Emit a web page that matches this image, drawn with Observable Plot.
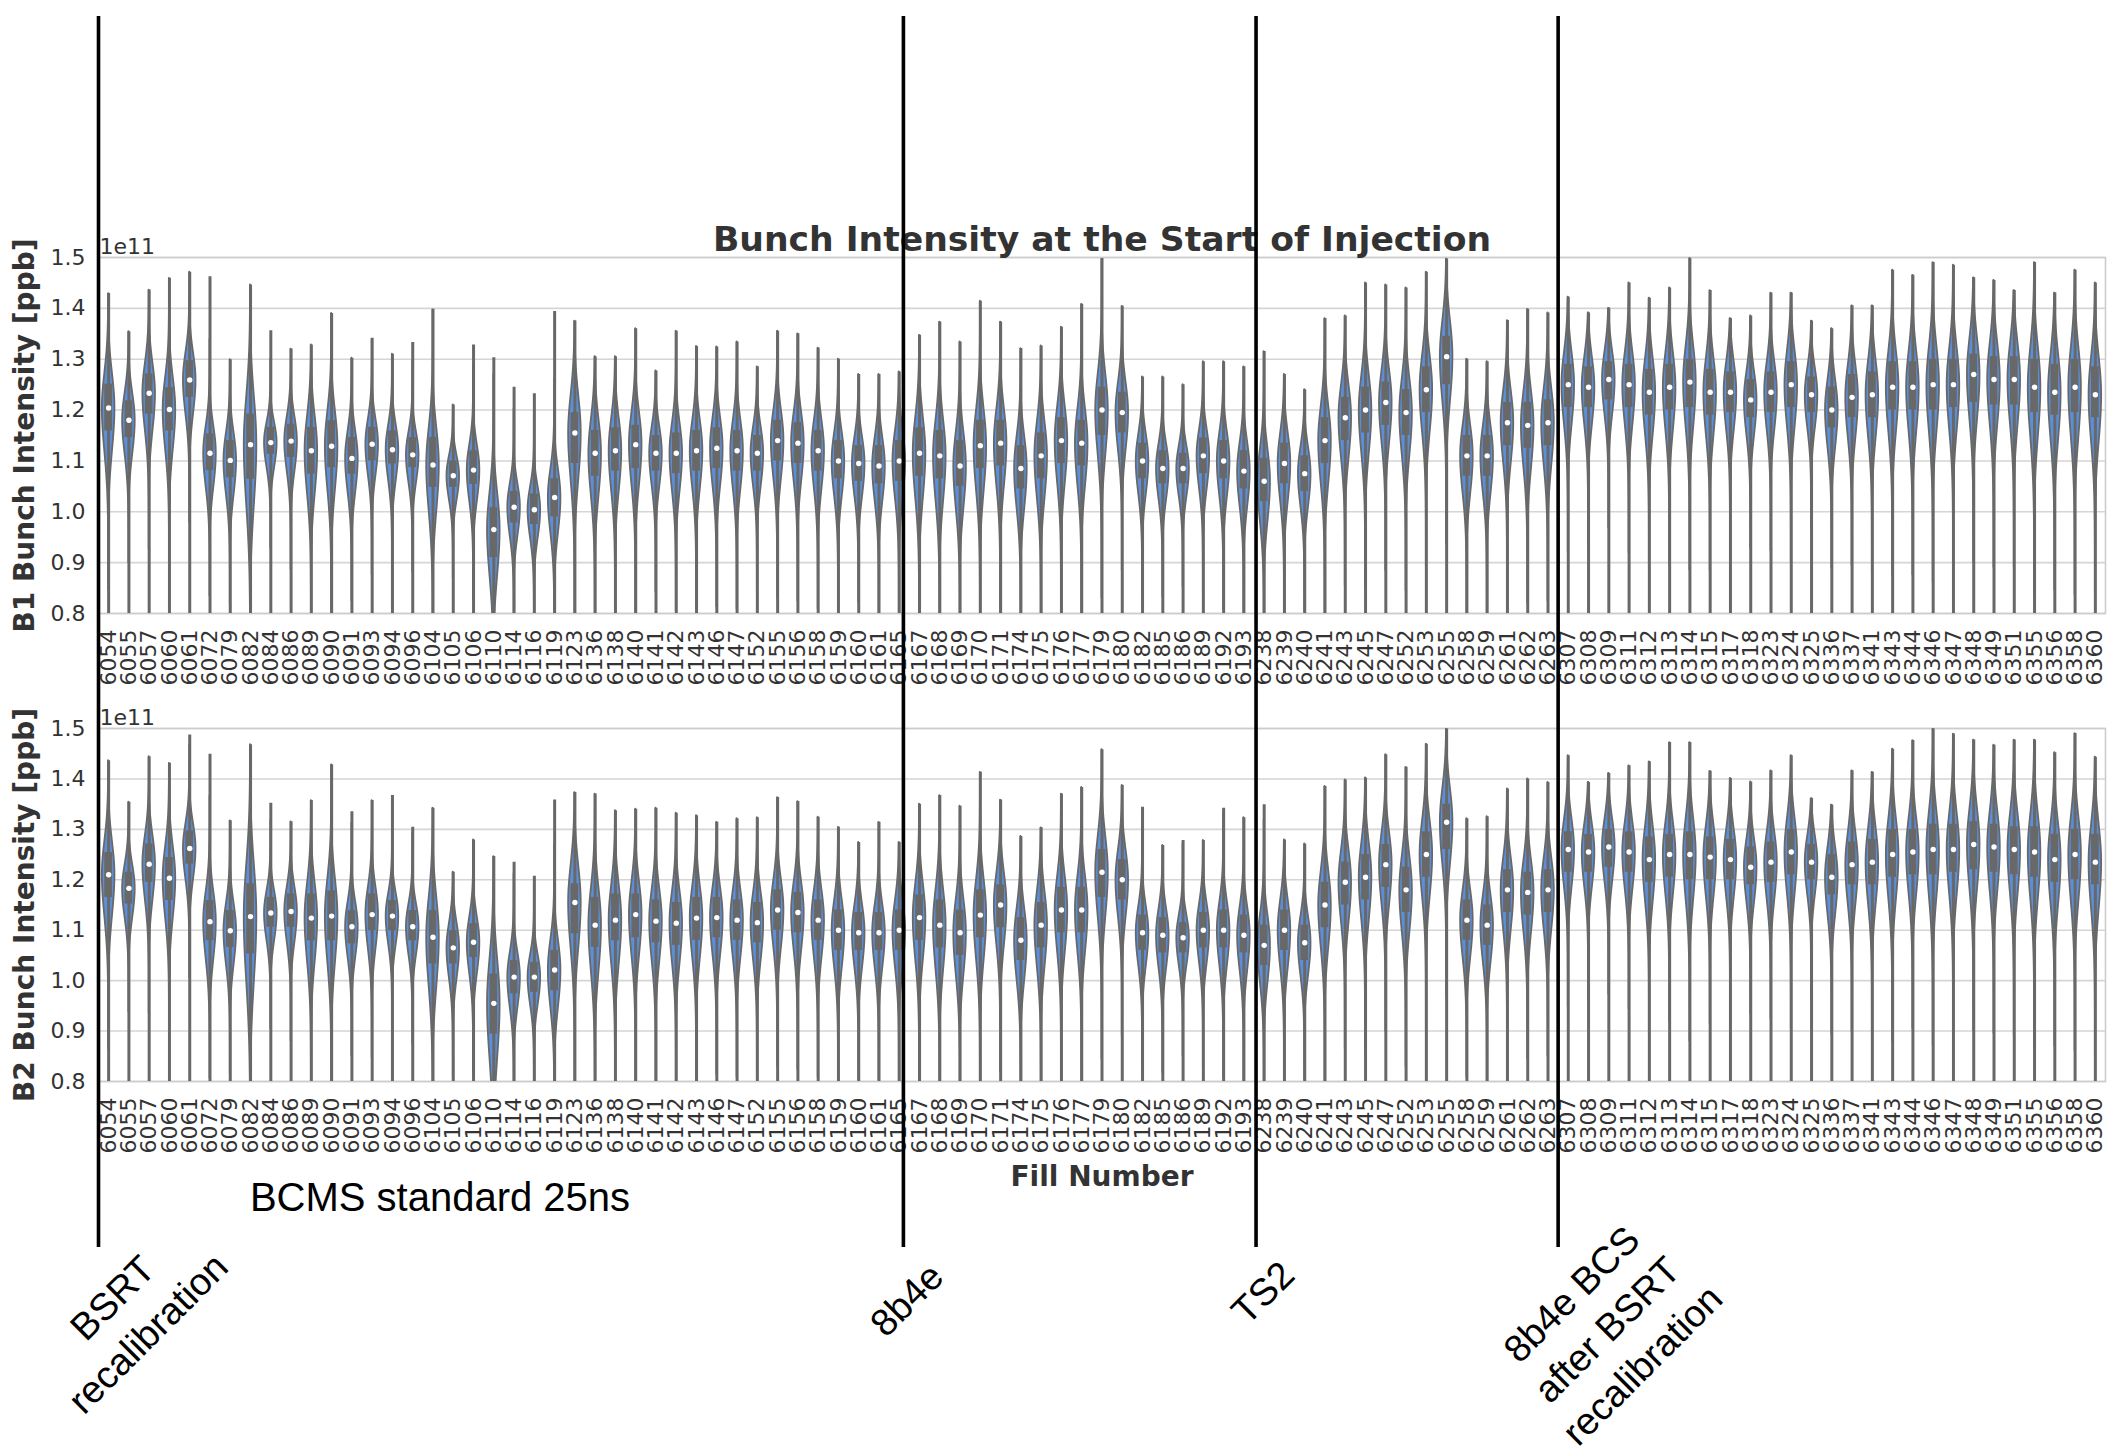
<!DOCTYPE html>
<html>
<head>
<meta charset="utf-8">
<script src="https://cdn.jsdelivr.net/npm/d3@7"></script>
<script src="https://cdn.jsdelivr.net/npm/@observablehq/plot@0.6"></script>
<style>
html, body { margin: 0; padding: 0; background: #fff; overflow: hidden; }
#chart { position: relative; width: 2114px; height: 1454px; background: #fff; }
#chart svg { position: absolute; left: 0; max-width: none !important; }
</style>
</head>
<body>
<div id="chart"></div>
<script>
// ---------------- DATA ----------------
const fills = ["6054","6055","6057","6060","6061","6072","6079","6082","6084","6086","6089","6090","6091","6093","6094","6096","6104","6105","6106","6110","6114","6116","6119","6123","6136","6138","6140","6141","6142","6143","6146","6147","6152","6155","6156","6158","6159","6160","6161","6165","6167","6168","6169","6170","6171","6174","6175","6176","6177","6179","6180","6182","6185","6186","6189","6192","6193","6238","6239","6240","6241","6243","6245","6247","6252","6253","6255","6258","6259","6261","6262","6263","6307","6308","6309","6311","6312","6313","6314","6315","6317","6318","6323","6324","6325","6336","6337","6341","6343","6344","6346","6347","6348","6349","6351","6355","6356","6358","6360"];

// B1 (units of 1e11 ppb)
const b1Median = [1.204,1.180,1.233,1.201,1.259,1.115,1.101,1.132,1.136,1.139,1.120,1.129,1.105,1.133,1.122,1.112,1.092,1.071,1.082,0.965,1.009,1.004,1.028,1.155,1.115,1.120,1.132,1.115,1.115,1.120,1.125,1.120,1.115,1.140,1.135,1.120,1.100,1.095,1.090,1.100,1.115,1.110,1.090,1.130,1.135,1.085,1.110,1.140,1.135,1.200,1.195,1.100,1.085,1.085,1.110,1.100,1.080,1.060,1.095,1.075,1.140,1.185,1.200,1.215,1.195,1.240,1.305,1.110,1.110,1.175,1.170,1.175,1.250,1.245,1.260,1.250,1.235,1.245,1.255,1.235,1.235,1.220,1.235,1.250,1.230,1.200,1.225,1.230,1.245,1.245,1.250,1.250,1.270,1.260,1.260,1.245,1.235,1.245,1.230];
const b1Q1 = [1.159,1.146,1.192,1.159,1.225,1.081,1.067,1.064,1.113,1.107,1.074,1.087,1.074,1.100,1.094,1.087,1.048,1.048,1.054,0.910,0.978,0.975,0.990,1.095,1.070,1.080,1.085,1.080,1.075,1.080,1.085,1.080,1.080,1.100,1.095,1.080,1.065,1.060,1.055,1.060,1.070,1.065,1.050,1.085,1.090,1.045,1.065,1.095,1.090,1.150,1.155,1.065,1.055,1.055,1.075,1.065,1.045,1.020,1.055,1.040,1.095,1.140,1.155,1.170,1.150,1.195,1.250,1.070,1.070,1.130,1.125,1.130,1.205,1.205,1.220,1.205,1.190,1.200,1.205,1.190,1.195,1.185,1.195,1.205,1.195,1.165,1.185,1.185,1.200,1.200,1.200,1.205,1.215,1.210,1.210,1.195,1.190,1.195,1.185];
const b1Q3 = [1.251,1.218,1.271,1.244,1.297,1.153,1.140,1.192,1.166,1.172,1.166,1.179,1.146,1.166,1.159,1.146,1.146,1.100,1.120,1.008,1.040,1.035,1.065,1.195,1.160,1.165,1.170,1.150,1.155,1.160,1.165,1.160,1.150,1.180,1.175,1.160,1.140,1.130,1.130,1.140,1.165,1.160,1.140,1.180,1.180,1.130,1.155,1.185,1.180,1.245,1.235,1.135,1.120,1.115,1.145,1.140,1.120,1.105,1.135,1.110,1.185,1.225,1.245,1.255,1.240,1.285,1.345,1.150,1.150,1.215,1.215,1.220,1.290,1.285,1.295,1.290,1.280,1.290,1.300,1.280,1.275,1.260,1.275,1.295,1.265,1.245,1.270,1.275,1.295,1.295,1.300,1.300,1.310,1.305,1.305,1.300,1.290,1.300,1.285];
const b1Max = [1.429,1.354,1.436,1.459,1.471,1.462,1.299,1.446,1.356,1.320,1.328,1.390,1.302,1.341,1.310,1.333,1.398,1.210,1.328,1.303,1.245,1.232,1.394,1.375,1.305,1.305,1.360,1.277,1.355,1.325,1.324,1.334,1.285,1.355,1.350,1.322,1.300,1.270,1.270,1.275,1.347,1.373,1.334,1.414,1.373,1.321,1.326,1.363,1.408,1.498,1.404,1.265,1.265,1.250,1.295,1.295,1.285,1.315,1.270,1.240,1.380,1.385,1.450,1.446,1.440,1.471,1.497,1.300,1.295,1.376,1.398,1.391,1.422,1.391,1.400,1.450,1.420,1.440,1.498,1.435,1.380,1.385,1.430,1.430,1.375,1.360,1.405,1.405,1.475,1.465,1.490,1.485,1.460,1.455,1.435,1.490,1.430,1.475,1.450];

// B2 (units of 1e11 ppb)
const b2Median = [1.210,1.183,1.231,1.203,1.262,1.117,1.099,1.127,1.134,1.137,1.124,1.128,1.107,1.131,1.128,1.107,1.086,1.065,1.076,0.955,1.007,1.007,1.021,1.155,1.110,1.120,1.131,1.118,1.114,1.124,1.125,1.120,1.115,1.140,1.135,1.120,1.100,1.095,1.095,1.100,1.125,1.110,1.095,1.130,1.150,1.080,1.110,1.140,1.140,1.215,1.200,1.095,1.090,1.085,1.100,1.100,1.090,1.070,1.100,1.075,1.150,1.195,1.205,1.230,1.180,1.250,1.314,1.120,1.110,1.180,1.175,1.180,1.260,1.255,1.265,1.255,1.240,1.250,1.250,1.245,1.240,1.225,1.235,1.255,1.235,1.205,1.230,1.235,1.250,1.255,1.260,1.260,1.270,1.265,1.260,1.255,1.240,1.250,1.235];
const b2Q1 = [1.165,1.152,1.195,1.159,1.231,1.079,1.066,1.053,1.106,1.106,1.079,1.079,1.073,1.099,1.099,1.079,1.033,1.033,1.046,0.894,0.974,0.977,0.980,1.093,1.066,1.079,1.085,1.075,1.070,1.080,1.085,1.080,1.075,1.100,1.095,1.080,1.060,1.060,1.060,1.060,1.080,1.065,1.050,1.085,1.105,1.040,1.065,1.095,1.095,1.165,1.160,1.060,1.055,1.055,1.065,1.065,1.055,1.030,1.060,1.040,1.105,1.150,1.160,1.185,1.135,1.205,1.260,1.080,1.070,1.135,1.130,1.135,1.215,1.215,1.225,1.215,1.195,1.205,1.200,1.200,1.200,1.190,1.195,1.210,1.200,1.170,1.190,1.190,1.205,1.210,1.210,1.215,1.220,1.215,1.210,1.205,1.195,1.200,1.190];
const b2Q3 = [1.254,1.215,1.271,1.244,1.297,1.159,1.139,1.192,1.165,1.172,1.172,1.178,1.139,1.172,1.159,1.139,1.139,1.099,1.113,1.013,1.040,1.036,1.060,1.192,1.165,1.172,1.172,1.160,1.155,1.165,1.165,1.160,1.155,1.180,1.175,1.160,1.140,1.135,1.135,1.140,1.170,1.160,1.140,1.180,1.190,1.125,1.155,1.185,1.185,1.260,1.240,1.130,1.125,1.115,1.135,1.140,1.130,1.110,1.140,1.110,1.195,1.235,1.250,1.270,1.225,1.295,1.350,1.160,1.150,1.220,1.215,1.220,1.295,1.290,1.300,1.295,1.285,1.290,1.295,1.285,1.280,1.265,1.275,1.300,1.270,1.250,1.275,1.280,1.300,1.300,1.310,1.310,1.315,1.310,1.305,1.305,1.290,1.300,1.290];
const b2Max = [1.436,1.354,1.444,1.431,1.487,1.449,1.317,1.468,1.352,1.315,1.357,1.428,1.335,1.357,1.367,1.304,1.342,1.215,1.279,1.246,1.235,1.207,1.358,1.373,1.370,1.337,1.340,1.342,1.332,1.327,1.314,1.321,1.323,1.363,1.355,1.324,1.304,1.274,1.314,1.274,1.350,1.367,1.346,1.413,1.358,1.286,1.303,1.370,1.383,1.458,1.387,1.344,1.268,1.278,1.278,1.342,1.323,1.349,1.279,1.271,1.385,1.398,1.402,1.448,1.423,1.469,1.499,1.321,1.325,1.380,1.400,1.393,1.446,1.393,1.411,1.426,1.434,1.472,1.472,1.415,1.401,1.394,1.416,1.446,1.361,1.348,1.416,1.413,1.459,1.476,1.499,1.489,1.477,1.467,1.477,1.477,1.452,1.490,1.443];

// every distribution has a low tail running off the bottom of the axis
const lowTail = 0.70;

const yTicks = [0.8, 0.9, 1.0, 1.1, 1.2, 1.3, 1.4, 1.5];

// period annotations: boundary sits just before the named fill
const periodStarts = ["6054", "6167", "6238", "6307"];
const periodLabels = ["BSRT\nrecalibration", "8b4e", "TS2", "8b4e BCS\nafter BSRT\nrecalibration"];
const bandLabel = "BCMS standard 25ns";

// ---------------- STYLE / LAYOUT ----------------
const W = 2114, H = 1454;
const ML = 98, MR = 9;
const GRAY = "#686868";
const BLUE = "#5b8fd9";
const TEXT = "#333333";
const HALF_W = 0.31;   // max violin half-width (band units)
const BOX_HW = 0.19;   // inner box half-width
const N = fills.length;
const idx = d3.range(N);
const xDomain = [-0.5, N - 0.5];

function violinRows(med, q1, q3, mx) {
  const rows = [];
  for (const i of idx) {
    const s = Math.max(0.012, (q3[i] - q1[i]) / 1.35);
    const sLo = s * 1.25;
    const lo = Math.max(lowTail, med[i] - 4.2 * sLo);
    const hi = Math.min(mx[i], med[i] + 4.2 * s);
    const K = 60;
    for (let k = 0; k <= K; k++) {
      const y = lo + (hi - lo) * k / K;
      const sd = y < med[i] ? sLo : s;
      const w = HALF_W * Math.exp(-0.5 * ((y - med[i]) / sd) ** 2);
      rows.push({i, y, x1: i - w, x2: i + w});
    }
  }
  return rows;
}

function panel({med, q1, q3, mx, ylabel, height, marginTop, marginBottom, extra}) {
  const rows = violinRows(med, q1, q3, mx);
  return Plot.plot({
    width: W, height,
    marginLeft: ML, marginRight: MR, marginTop, marginBottom,
    style: {background: "transparent", fontFamily: "DejaVu Sans", fontSize: "22px", color: TEXT, overflow: "visible"},
    x: {domain: xDomain, axis: null},
    y: {domain: [0.8, 1.5], axis: null},
    marks: [
      Plot.gridY(yTicks, {stroke: "#d5d5d5", strokeOpacity: 1, strokeWidth: 1.6}),
      Plot.frame({stroke: "#cccccc", strokeWidth: 1.6}),
      Plot.areaX(rows, {x1: "x1", x2: "x2", y: "y", z: "i", fill: BLUE, fillOpacity: 1, stroke: GRAY, strokeWidth: 1.8, clip: true}),
      Plot.ruleX(idx, {x: i => i, y1: () => lowTail, y2: i => mx[i], stroke: GRAY, strokeWidth: 3, clip: true}),
      Plot.rect(idx, {x1: i => i - BOX_HW, x2: i => i + BOX_HW, y1: i => q1[i], y2: i => q3[i], fill: GRAY, clip: true}),
      Plot.dot(idx, {x: i => i, y: i => med[i], r: 2.7, fill: "white", stroke: null}),
      Plot.axisY(yTicks, {tickSize: 0, tickPadding: 13, tickFormat: d => d.toFixed(1), fontSize: 22, fill: TEXT, label: null}),
      Plot.axisX(idx, {tickSize: 0, tickPadding: 16, tickRotate: -90, tickFormat: i => fills[i], fontSize: 22, fill: TEXT, label: null}),
      Plot.text(["1e11"], {frameAnchor: "top-left", textAnchor: "start", lineAnchor: "bottom", dx: 1, dy: -4, fontSize: 22, fill: TEXT}),
      Plot.text([ylabel], {frameAnchor: "left", rotate: -90, dx: -73.5, textAnchor: "middle", lineAnchor: "middle", fontSize: 28, fontWeight: "bold", fill: TEXT}),
      ...(extra || [])
    ]
  });
}

const chartEl = document.getElementById("chart");

const panelB1 = panel({
  med: b1Median, q1: b1Q1, q3: b1Q3, mx: b1Max,
  ylabel: "B1 Bunch Intensity [ppb]",
  height: 520, marginTop: 57, marginBottom: 107,
  extra: [Plot.text(["Bunch Intensity at the Start of Injection"], {frameAnchor: "top", lineAnchor: "bottom", dy: -7, fontSize: 34.6, fontWeight: "bold", fill: TEXT})]
});
panelB1.style.top = "200px";
chartEl.appendChild(panelB1);

const panelB2 = panel({
  med: b2Median, q1: b2Q1, q3: b2Q3, mx: b2Max,
  ylabel: "B2 Bunch Intensity [ppb]",
  height: 500, marginTop: 28, marginBottom: 119,
  extra: [Plot.text(["Fill Number"], {frameAnchor: "bottom", lineAnchor: "middle", dy: 96, fontSize: 28, fontWeight: "bold", fill: TEXT})]
});
panelB2.style.top = "700px";
chartEl.appendChild(panelB2);

// overlay with the period markers (hand-drawn lines sit a few px off the exact boundaries)
const events = periodStarts.map((f, k) => ({x: fills.indexOf(f) - 0.5, label: periodLabels[k]}));
const lineDx = [0, -6, 2, 0];
const labelDx = [29.5, -5, 6.6, 46.6];
const labelY = [1313, 1297, 1290, 1327];
const overlay = Plot.plot({
  width: W, height: H,
  marginLeft: ML, marginRight: MR, marginTop: 0, marginBottom: 0,
  style: {background: "transparent", fontFamily: "Liberation Sans, Arial, sans-serif", overflow: "visible"},
  x: {domain: xDomain, axis: null},
  y: {domain: [0, H], range: [0, H], axis: null},
  marks: [
    ...events.map((e, k) => Plot.ruleX([e], {x: "x", y1: () => 16, y2: () => 1247, dx: lineDx[k], stroke: "black", strokeWidth: 3.6})),
    ...events.map((e, k) => Plot.text([e], {x: "x", y: () => labelY[k], text: "label", dx: labelDx[k], rotate: -45, textAnchor: "middle", lineAnchor: "middle", lineHeight: 1.32, fontSize: 38, fill: "black"})),
    Plot.text([bandLabel], {x: () => events[0].x, y: () => 1198, dx: 341.5, textAnchor: "middle", lineAnchor: "middle", fontSize: 40, fill: "black"})
  ]
});
overlay.style.top = "0px";
overlay.style.pointerEvents = "none";
chartEl.appendChild(overlay);
</script>
</body>
</html>
